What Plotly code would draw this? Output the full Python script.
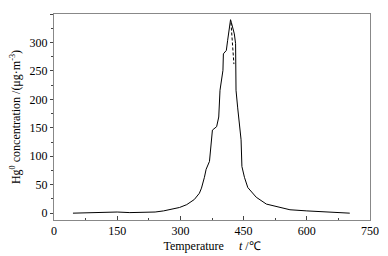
import plotly.graph_objects as go

# Hg0 release curve
temperature = [45, 80, 120, 150, 180, 220, 240, 260, 282, 298, 315, 333, 345, 350,
               357, 361, 369, 373, 376, 386, 391, 394, 397, 401, 402, 409, 412, 417,
               419, 421, 424, 428, 431, 432, 436, 440, 444, 446, 452, 460, 468, 480,
               504, 519, 536, 560, 600, 650, 702]
concentration = [0, 1, 2, 2, 1, 1, 2, 4, 7, 10, 15, 24, 35, 44,
                 63, 77, 91, 124, 146, 152, 169, 216, 228, 251, 280, 286, 303, 333,
                 340, 335, 326, 315, 298, 216, 185, 158, 129, 82, 63, 45, 38, 28,
                 16, 13, 10, 6, 4, 2, 0]

# short dashed segment near the peak
dash_t = [420, 427]
dash_c = [335, 262]

fig = go.Figure()
fig.add_trace(go.Scatter(x=temperature, y=concentration, mode='lines',
                         line=dict(color='black', width=1)))
fig.add_trace(go.Scatter(x=dash_t, y=dash_c, mode='lines',
                         line=dict(color='black', width=1, dash='3px,2px')))

font = dict(family='Liberation Serif', size=12, color='black')
fig.update_layout(
    width=380, height=248,
    margin=dict(l=46, r=18, t=5, b=35),
    paper_bgcolor='white', plot_bgcolor='white',
    showlegend=False,
    font=font,
    xaxis=dict(range=[0, 750], tickvals=[0, 150, 300, 450, 600, 750],
               tickfont=font,
               showgrid=False, zeroline=False, showline=True, linecolor='#888',
               linewidth=1, mirror=True, ticks='inside', ticklen=4, tickcolor='#444',
               minor=dict(ticks='inside', ticklen=2, tickcolor='#444', dtick=75),
               title=dict(text='Temperature     <i>t</i> /℃', standoff=4, font=font)),
    yaxis=dict(range=[-12, 350], tickvals=[0, 50, 100, 150, 200, 250, 300, 350],
               tickfont=font,
               showgrid=False, zeroline=False, showline=True, linecolor='#888',
               linewidth=1, mirror=True, ticks='outside', ticklen=3, tickcolor='#444',
               minor=dict(ticks='outside', ticklen=2, tickcolor='#444', dtick=25),
               title=dict(text='Hg<sup>0</sup> concentration /(μg·m<sup>-3</sup>)',
                          standoff=6, font=font)),
)

fig.write_html("out.html")
